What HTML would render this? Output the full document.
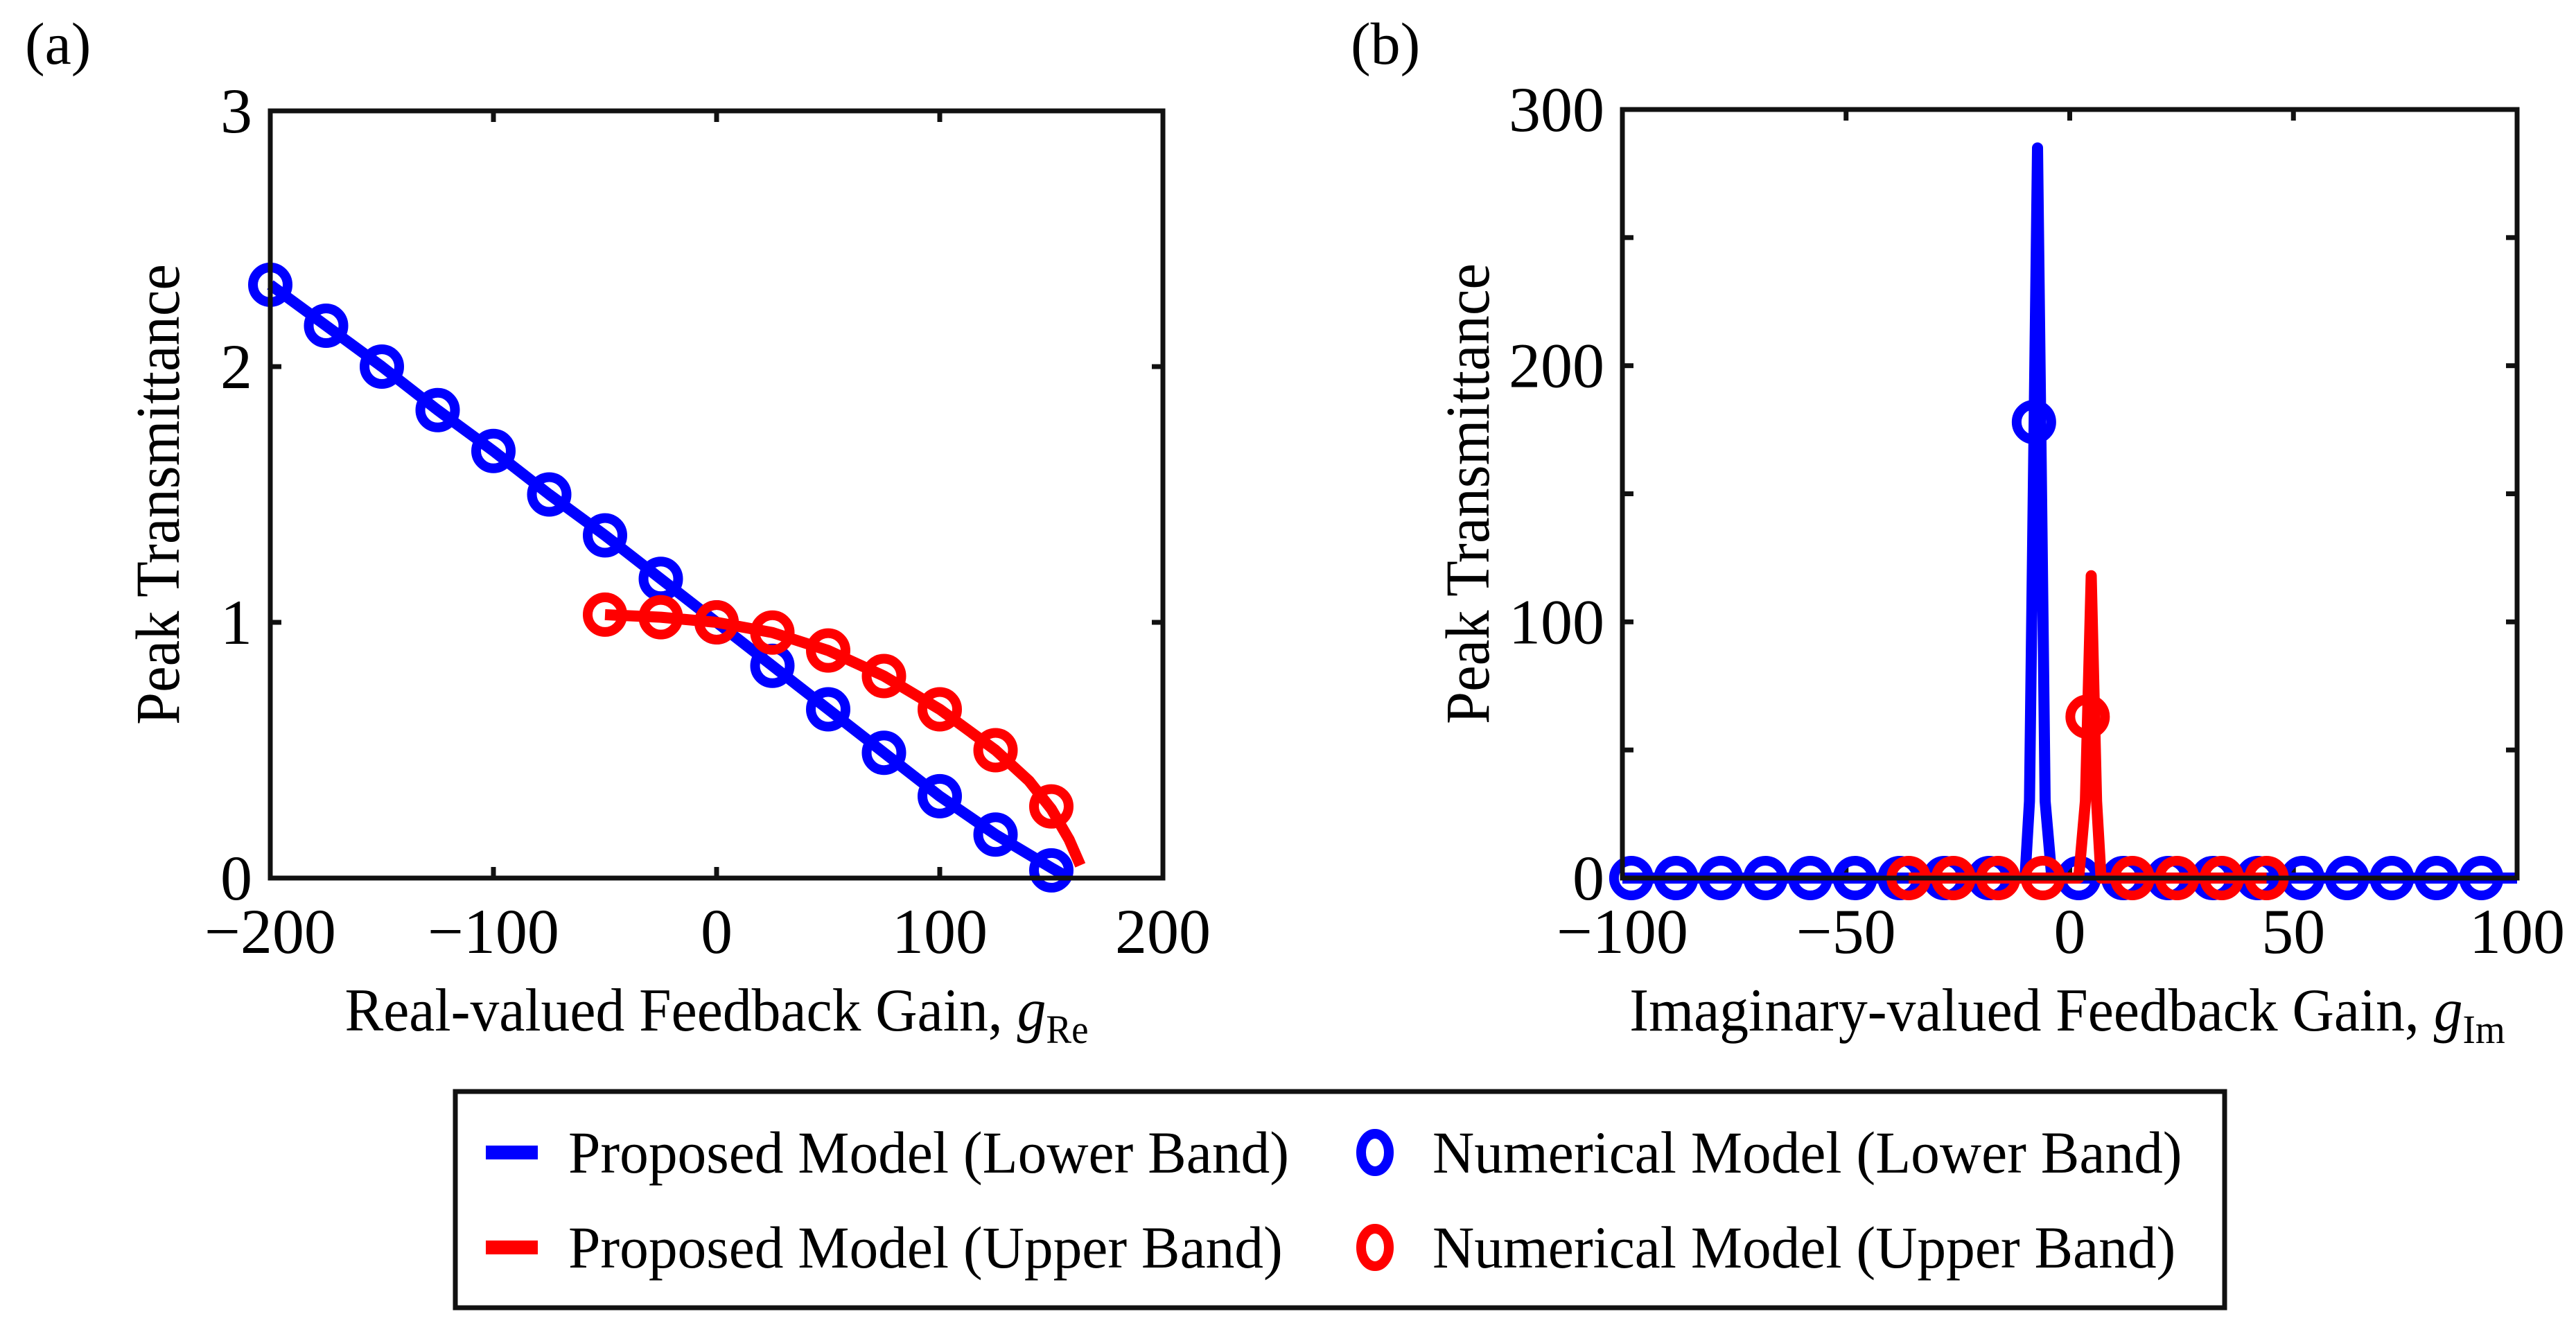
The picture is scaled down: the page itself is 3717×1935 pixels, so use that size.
<!DOCTYPE html>
<html><head><meta charset="utf-8"><style>
html,body{margin:0;padding:0;background:#fff;}
svg{display:block;font-family:"Liberation Serif",serif;}
</style></head><body>
<svg id="fig" width="3717" height="1935" viewBox="0 0 3717 1935" xmlns="http://www.w3.org/2000/svg">
<rect width="3717" height="1935" fill="#fff"/>
<g id="pa"></g>
<g id="pb"></g>
<g id="legend">
  <rect x="657" y="1575" width="2553" height="312" fill="none" stroke="#111" stroke-width="7"/>
  <g>
    <line x1="701" y1="1663" x2="776" y2="1663" stroke="#0000ff" stroke-width="20"/>
    <text x="820" y="1692" font-size="86" transform="translate(820,0) scale(0.97,1) translate(-820,0)">Proposed Model (Lower Band)</text>
  </g>
  <g>
    <line x1="701" y1="1800" x2="776" y2="1800" stroke="#ff0000" stroke-width="20"/>
    <text x="820" y="1829" font-size="86" transform="translate(820,0) scale(0.97,1) translate(-820,0)">Proposed Model (Upper Band)</text>
  </g>
  <g>
    <ellipse cx="1984" cy="1663" rx="20" ry="27" fill="none" stroke="#0000ff" stroke-width="14"/>
    <text x="2067" y="1692" font-size="86" transform="translate(2067,0) scale(0.97,1) translate(-2067,0)">Numerical Model (Lower Band)</text>
  </g>
  <g>
    <ellipse cx="1984" cy="1800" rx="20" ry="27" fill="none" stroke="#ff0000" stroke-width="14"/>
    <text x="2067" y="1829" font-size="86" transform="translate(2067,0) scale(0.97,1) translate(-2067,0)">Numerical Model (Upper Band)</text>
  </g>
</g>
</svg>
<script>
// Panel (a) data
const aBlueX = [-200,-175,-150,-125,-100,-75,-50,-25,0,25,50,75,100,125,150];
const aBlueY = [2.32,2.16,2.0,1.83,1.67,1.5,1.34,1.17,1.0,0.83,0.66,0.49,0.32,0.17,0.03];
const aBlueLineX = [-200,-175,-150,-125,-100,-75,-50,-25,0,25,50,75,100,125,150,158];
const aBlueLineY = [2.32,2.16,2.0,1.83,1.67,1.5,1.34,1.17,1.0,0.83,0.66,0.49,0.32,0.17,0.04,0];
const aRedX = [-50,-25,0,25,50,75,100,125,150];
const aRedY = [1.03,1.02,1.0,0.96,0.89,0.79,0.66,0.5,0.28];
const aRedLineX = [-50,-25,0,25,50,75,100,125,140,150,158,163];
const aRedLineY = [1.03,1.02,1.0,0.96,0.89,0.79,0.66,0.5,0.38,0.27,0.15,0.05];
const aXTicks = [-200,-100,0,100,200];
const aXTickLabels = ["\u2212200","\u2212100","0","100","200"];
const aYTicks = [0,1,2,3];
const aYTickLabels = ["0","1","2","3"];
// Panel (b) data
const bBlueX = [-98,-88,-78,-68,-58,-48,-38,-28,-18,-8,2,12,22,32,42,52,62,72,82,92];
const bBlueY = [0,0,0,0,0,0,0,0,0,178,0,0,0,0,0,0,0,0,0,0];
const bBlueLineX = [-100,-10,-9,-7.2,-5.5,-4,100];
const bBlueLineY = [0,0,30,285,30,0,0];
const bRedX = [-36,-26,-16,-6,4,14,24,34,44];
const bRedY = [0,0,0,0,63,0,0,0,0];
const bRedLineX = [-36,2,3.5,4.8,6,7,44];
const bRedLineY = [0,0,30,118,30,0,0];
const bXTicks = [-100,-50,0,50,100];
const bXTickLabels = ["\u2212100","\u221250","0","50","100"];
const bYTicks = [0,50,100,150,200,250,300];
const bYTickLabels = ["0","","100","","200","","300"];

const NS = "http://www.w3.org/2000/svg";
function mk(tag, attrs, parent){
  const e = document.createElementNS(NS, tag);
  for (const k in attrs) e.setAttribute(k, attrs[k]);
  parent.appendChild(e); return e;
}
function drawPanel(g, box, xr, yr, xt, xtl, yt, ytl, series, labels){
  const sx = v => box.l + (v - xr[0]) / (xr[1] - xr[0]) * (box.r - box.l);
  const sy = v => box.b - (v - yr[0]) / (yr[1] - yr[0]) * (box.b - box.t);
  xt.forEach((v, i) => {
    const x = sx(v);
    const t1 = mk('line', {x1:x, y1:box.b, x2:x, y2:box.b-16, stroke:'#111','stroke-width':7}, g);
    
    
    mk('line', {x1:x, y1:box.t, x2:x, y2:box.t+16, stroke:'#111','stroke-width':7}, g);
    const tx = mk('text', {x:x, y:box.b+108, 'font-size':92, 'text-anchor':'middle'}, g);
    tx.textContent = xtl[i];
    
    
  });
  yt.forEach((v, i) => {
    const y = sy(v);
    const t1 = mk('line', {x1:box.l, y1:y, x2:box.l+16, y2:y, stroke:'#111','stroke-width':7}, g);
    
    
    mk('line', {x1:box.r, y1:y, x2:box.r-16, y2:y, stroke:'#111','stroke-width':7}, g);
    if (ytl[i]) {
      const tx = mk('text', {x:box.l-26, y:y+31, 'font-size':92, 'text-anchor':'end'}, g);
      tx.textContent = ytl[i];
      
      
    }
  });
  series.forEach(s => {
    const pts = s.lx.map((v, i) => sx(v) + ',' + sy(s.ly[i])).join(' ');
    const pl = mk('polyline', {points:pts, fill:'none', stroke:s.c, 'stroke-width':16, 'stroke-linejoin':'round'}, g);
    
    
    s.mx.forEach((v, i) => {
      const c = mk('circle', {cx:sx(v), cy:sy(s.my[i]), r:25, fill:'none', stroke:s.c, 'stroke-width':14}, g);
      
      
    });
  });
  const fr = mk('rect', {x:box.l, y:box.t, width:box.r-box.l, height:box.b-box.t, fill:'none', stroke:'#111','stroke-width':7}, g);
  
  
  const pl = mk('text', {x:labels.px, y:92, 'font-size':86}, g);
  pl.textContent = labels.panel;
  
  
  const cy = (box.t+box.b)/2;
  const yl = mk('text', {x:0, y:0, 'font-size':90, 'text-anchor':'middle', transform:'translate(' + labels.yx + ',' + cy + ') rotate(-90) scale(0.94,1)'}, g);
  yl.textContent = 'Peak Transmittance';
  
  
  const xl = mk('text', {x:0, y:0, 'font-size':88, 'text-anchor':'middle', transform:'translate(' + labels.xx + ',1487) scale(0.95,1)'}, g);
  
  
  const t1 = mk('tspan', {}, xl); t1.textContent = labels.xt + ' ';
  const t2 = mk('tspan', {'font-style':'italic'}, xl); t2.textContent = 'g';
  const t3 = mk('tspan', {'font-size':58, dy:18}, xl); t3.textContent = labels.sub;
}
drawPanel(document.getElementById('pa'), {l:390, r:1678, t:160, b:1267}, [-200,200], [0,3],
  aXTicks, aXTickLabels, aYTicks, aYTickLabels,
  [{name:'lower-band', c:'#0000ff', lx:aBlueLineX, ly:aBlueLineY, mx:aBlueX, my:aBlueY},
   {name:'upper-band', c:'#ff0000', lx:aRedLineX, ly:aRedLineY, mx:aRedX, my:aRedY}],
  {panel:'(a)', px:36, yx:258, xx:1034, xt:'Real-valued Feedback Gain,', sub:'Re'});
drawPanel(document.getElementById('pb'), {l:2341, r:3632, t:158, b:1267}, [-100,100], [0,300],
  bXTicks, bXTickLabels, bYTicks, bYTickLabels,
  [{name:'lower-band', c:'#0000ff', lx:bBlueLineX, ly:bBlueLineY, mx:bBlueX, my:bBlueY},
   {name:'upper-band', c:'#ff0000', lx:bRedLineX, ly:bRedLineY, mx:bRedX, my:bRedY}],
  {panel:'(b)', px:1949, yx:2148, xx:2983, xt:'Imaginary-valued Feedback Gain,', sub:'Im'});
</script>
</body></html>
